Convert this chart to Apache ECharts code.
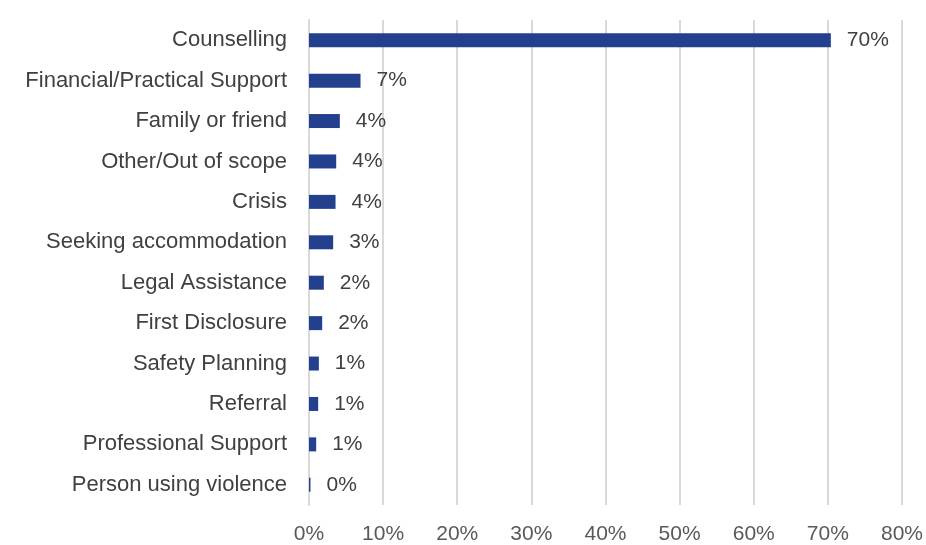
<!DOCTYPE html>
<html>
<head>
<meta charset="utf-8">
<script src="https://cdn.jsdelivr.net/npm/echarts@6/dist/echarts.min.js"></script>
<style>html,body{margin:0;padding:0;background:#fff}#c{width:926px;height:545px}</style>
</head>
<body>
<div id="c"></div>
<script>
const categories = ["Counselling","Financial/Practical Support","Family or friend","Other/Out of scope","Crisis","Seeking accommodation","Legal Assistance","First Disclosure","Safety Planning","Referral","Professional Support","Person using violence"];
const values = [70.4, 6.95, 4.16, 3.67, 3.58, 3.26, 2.0, 1.78, 1.33, 1.24, 0.97, 0.2];
const xTicks = [0, 10, 20, 30, 40, 50, 60, 70, 80];

const chart = echarts.init(document.getElementById('c'));
const font = '"Liberation Sans", Arial, sans-serif';
chart.setOption({
  animation: false,
  grid: {left: 309, right: 24, top: 20, bottom: 38, containLabel: false},
  xAxis: {
    type: 'value', min: xTicks[0], max: xTicks[xTicks.length-1], interval: 10,
    axisLine: {show: false}, axisTick: {show: false},
    splitLine: {show: true, lineStyle: {color: '#d9d9d9', width: 2}},
    axisLabel: {formatter: v => v + '%', color: '#595959', fontSize: 21, fontFamily: font, margin: 19}
  },
  yAxis: {
    type: 'category', data: categories, inverse: true,
    axisLine: {show: true, lineStyle: {color: '#d9d9d9', width: 2}},
    axisTick: {show: false},
    axisLabel: {color: '#404040', fontSize: 22, fontFamily: font, margin: 22}
  },
  series: [{
    type: 'bar', data: values, barWidth: 14,
    itemStyle: {color: '#23408e'},
    label: {show: true, position: 'right', distance: 16, formatter: p => Math.round(p.value) + '%',
      color: '#404040', fontSize: 21, fontFamily: font}
  }]
});
</script>
</body>
</html>
